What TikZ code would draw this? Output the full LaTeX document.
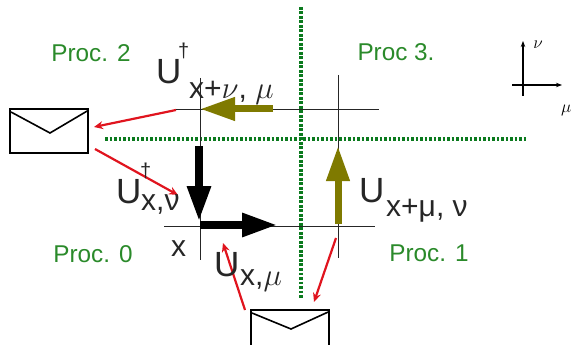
\documentclass[tikz,border=0pt]{standalone}
\usepackage{graphicx}
\usepackage{fontspec}
\setmainfont{Liberation Sans}
\usetikzlibrary{arrows.meta}
\definecolor{procgreen}{HTML}{2A8A2A}
\definecolor{dotgreen}{HTML}{0B7A1E}
\definecolor{myolive}{HTML}{7F7A00}
\definecolor{myred}{HTML}{E0141E}
\newcommand{\bigsym}[1]{\scalebox{1.25}{$#1$}}
\tikzset{
  proc/.style={text=procgreen,font=\fontsize{24.3}{24.3}\selectfont,inner sep=0pt,anchor=base},
  lab/.style={font=\fontsize{30}{30}\selectfont,inner sep=0pt,anchor=base west,text=black!85},
  big/.style={font=\fontsize{35}{35}\selectfont,inner sep=0pt,anchor=base west,text=black!85},
  dag/.style={font=\fontsize{20}{20}\selectfont,inner sep=0pt,anchor=base west,text=black!85},
  grid/.style={draw=black!85,line width=1pt},
  sep/.style={draw=dotgreen,line width=4.6pt,dash pattern=on 2.9pt off 1.6pt},
  env/.style={draw=black,line width=2.2pt,minimum width=78pt,minimum height=44pt,inner sep=0pt,anchor=north west},
  flap/.style={draw=black,line width=1.6pt},
  redarr/.style={draw=myred,line width=2.2pt,-{Stealth[length=9pt,width=8pt]}},
  bigblack/.style={draw=black,line width=8.5pt,-{Triangle[length=36pt,width=22pt]}},
  bigolive/.style={draw=myolive,line width=7pt,-{Triangle[length=35pt,width=22pt]}},
  axis/.style={draw=black,line width=1.8pt},
  axarr/.style={axis,-{Stealth[length=6pt,width=4.5pt]}}
}
\begin{document}
\begin{tikzpicture}[x=1pt,y=-1pt]
\useasboundingbox (0,0) rectangle (571,345);
\coordinate (h1a) at (176,110); \coordinate (h1b) at (379,110);
\coordinate (h0a) at (164,226); \coordinate (h0b) at (375,226);
\coordinate (v0a) at (200,78);  \coordinate (v0b) at (200,260);
\coordinate (v1a) at (338,75);  \coordinate (v1b) at (338,258);
\coordinate (sepha) at (105,139); \coordinate (sephb) at (527,139);
\coordinate (sepva) at (301,7);  \coordinate (sepvb) at (301,298);
\draw[sep] (sepha) -- (sephb);
\draw[sep] (sepva) -- (sepvb);
\draw[grid] (h1a) -- (h1b);
\draw[grid] (h0a) -- (h0b);
\draw[grid] (v0a) -- (v0b);
\draw[grid] (v1a) -- (v1b);
\coordinate (ol1s) at (273,109); \coordinate (ol1e) at (200,109);
\coordinate (ol2s) at (338,224); \coordinate (ol2e) at (338,146);
\coordinate (bl1s) at (199,146); \coordinate (bl1e) at (199,222);
\coordinate (bl2s) at (200,225); \coordinate (bl2e) at (278,225);
\draw[bigolive] (ol1s) -- (ol1e);
\draw[bigolive] (ol2s) -- (ol2e);
\draw[bigblack] (bl1s) -- (bl1e);
\draw[bigblack] (bl2s) -- (bl2e);
\node[env] (envL) at (9,108) {};
\node[env] (envB) at (250,309) {};
\coordinate (envLm) at (50,133);
\coordinate (envBm) at (291,329);
\draw[flap] ([shift={(2,4)}]envL.north west) -- (envLm) -- ([shift={(-2,3)}]envL.north east);
\draw[flap] ([shift={(2,4)}]envB.north west) -- (envBm) -- ([shift={(-2,3)}]envB.north east);
\coordinate (r1s) at (176,110); \coordinate (r1e) at (94,127);
\coordinate (r2s) at (95,149);  \coordinate (r2e) at (178,195);
\coordinate (r3s) at (245,310); \coordinate (r3e) at (223,243);
\coordinate (r4s) at (336,238); \coordinate (r4e) at (314,302);
\draw[redarr] (r1s) -- (r1e);
\draw[redarr] (r2s) -- (r2e);
\draw[redarr] (r3s) -- (r3e);
\draw[redarr] (r4s) -- (r4e);
\coordinate (ax0a) at (523,96); \coordinate (ax0b) at (523,41);
\coordinate (ax1a) at (512,85); \coordinate (ax1b) at (562,85);
\draw[axarr] (ax0a) -- (ax0b);
\draw[axarr] (ax1a) -- (ax1b);
\node[inner sep=0pt,anchor=base,font=\fontsize{17}{17}\selectfont] (nu) at (538,49) {$\nu$};
\node[inner sep=0pt,anchor=base west,font=\fontsize{17}{17}\selectfont] (mu) at (561,113) {$\mu$};
\node[proc] (p2) at (91,62) {Proc. 2};
\node[proc] (p3) at (396,61) {Proc 3.};
\node[proc] (p0) at (93,262) {Proc. 0};
\node[proc] (p1) at (429,261) {Proc. 1};
\node[big] (u1) at (156,84) {U};
\node[dag] (d1) at (178,58) {†};
\node[lab] (s1) at (189,99) {x+\bigsym{\nu}, \bigsym{\mu}};
\node[big] (u2) at (116,203) {U};
\node[dag] (d2) at (140,178) {†};
\node[lab] (s2) at (141,210) {x,ν};
\node[big] (u3) at (214,276) {U};
\node[lab] (s3) at (240,285) {x,\bigsym{\mu}};
\node[big] (u4) at (359,202) {U};
\node[lab] (s4) at (386,216) {x+μ, ν};
\node[lab] (x) at (171,256) {x};
\end{tikzpicture}
\end{document}
